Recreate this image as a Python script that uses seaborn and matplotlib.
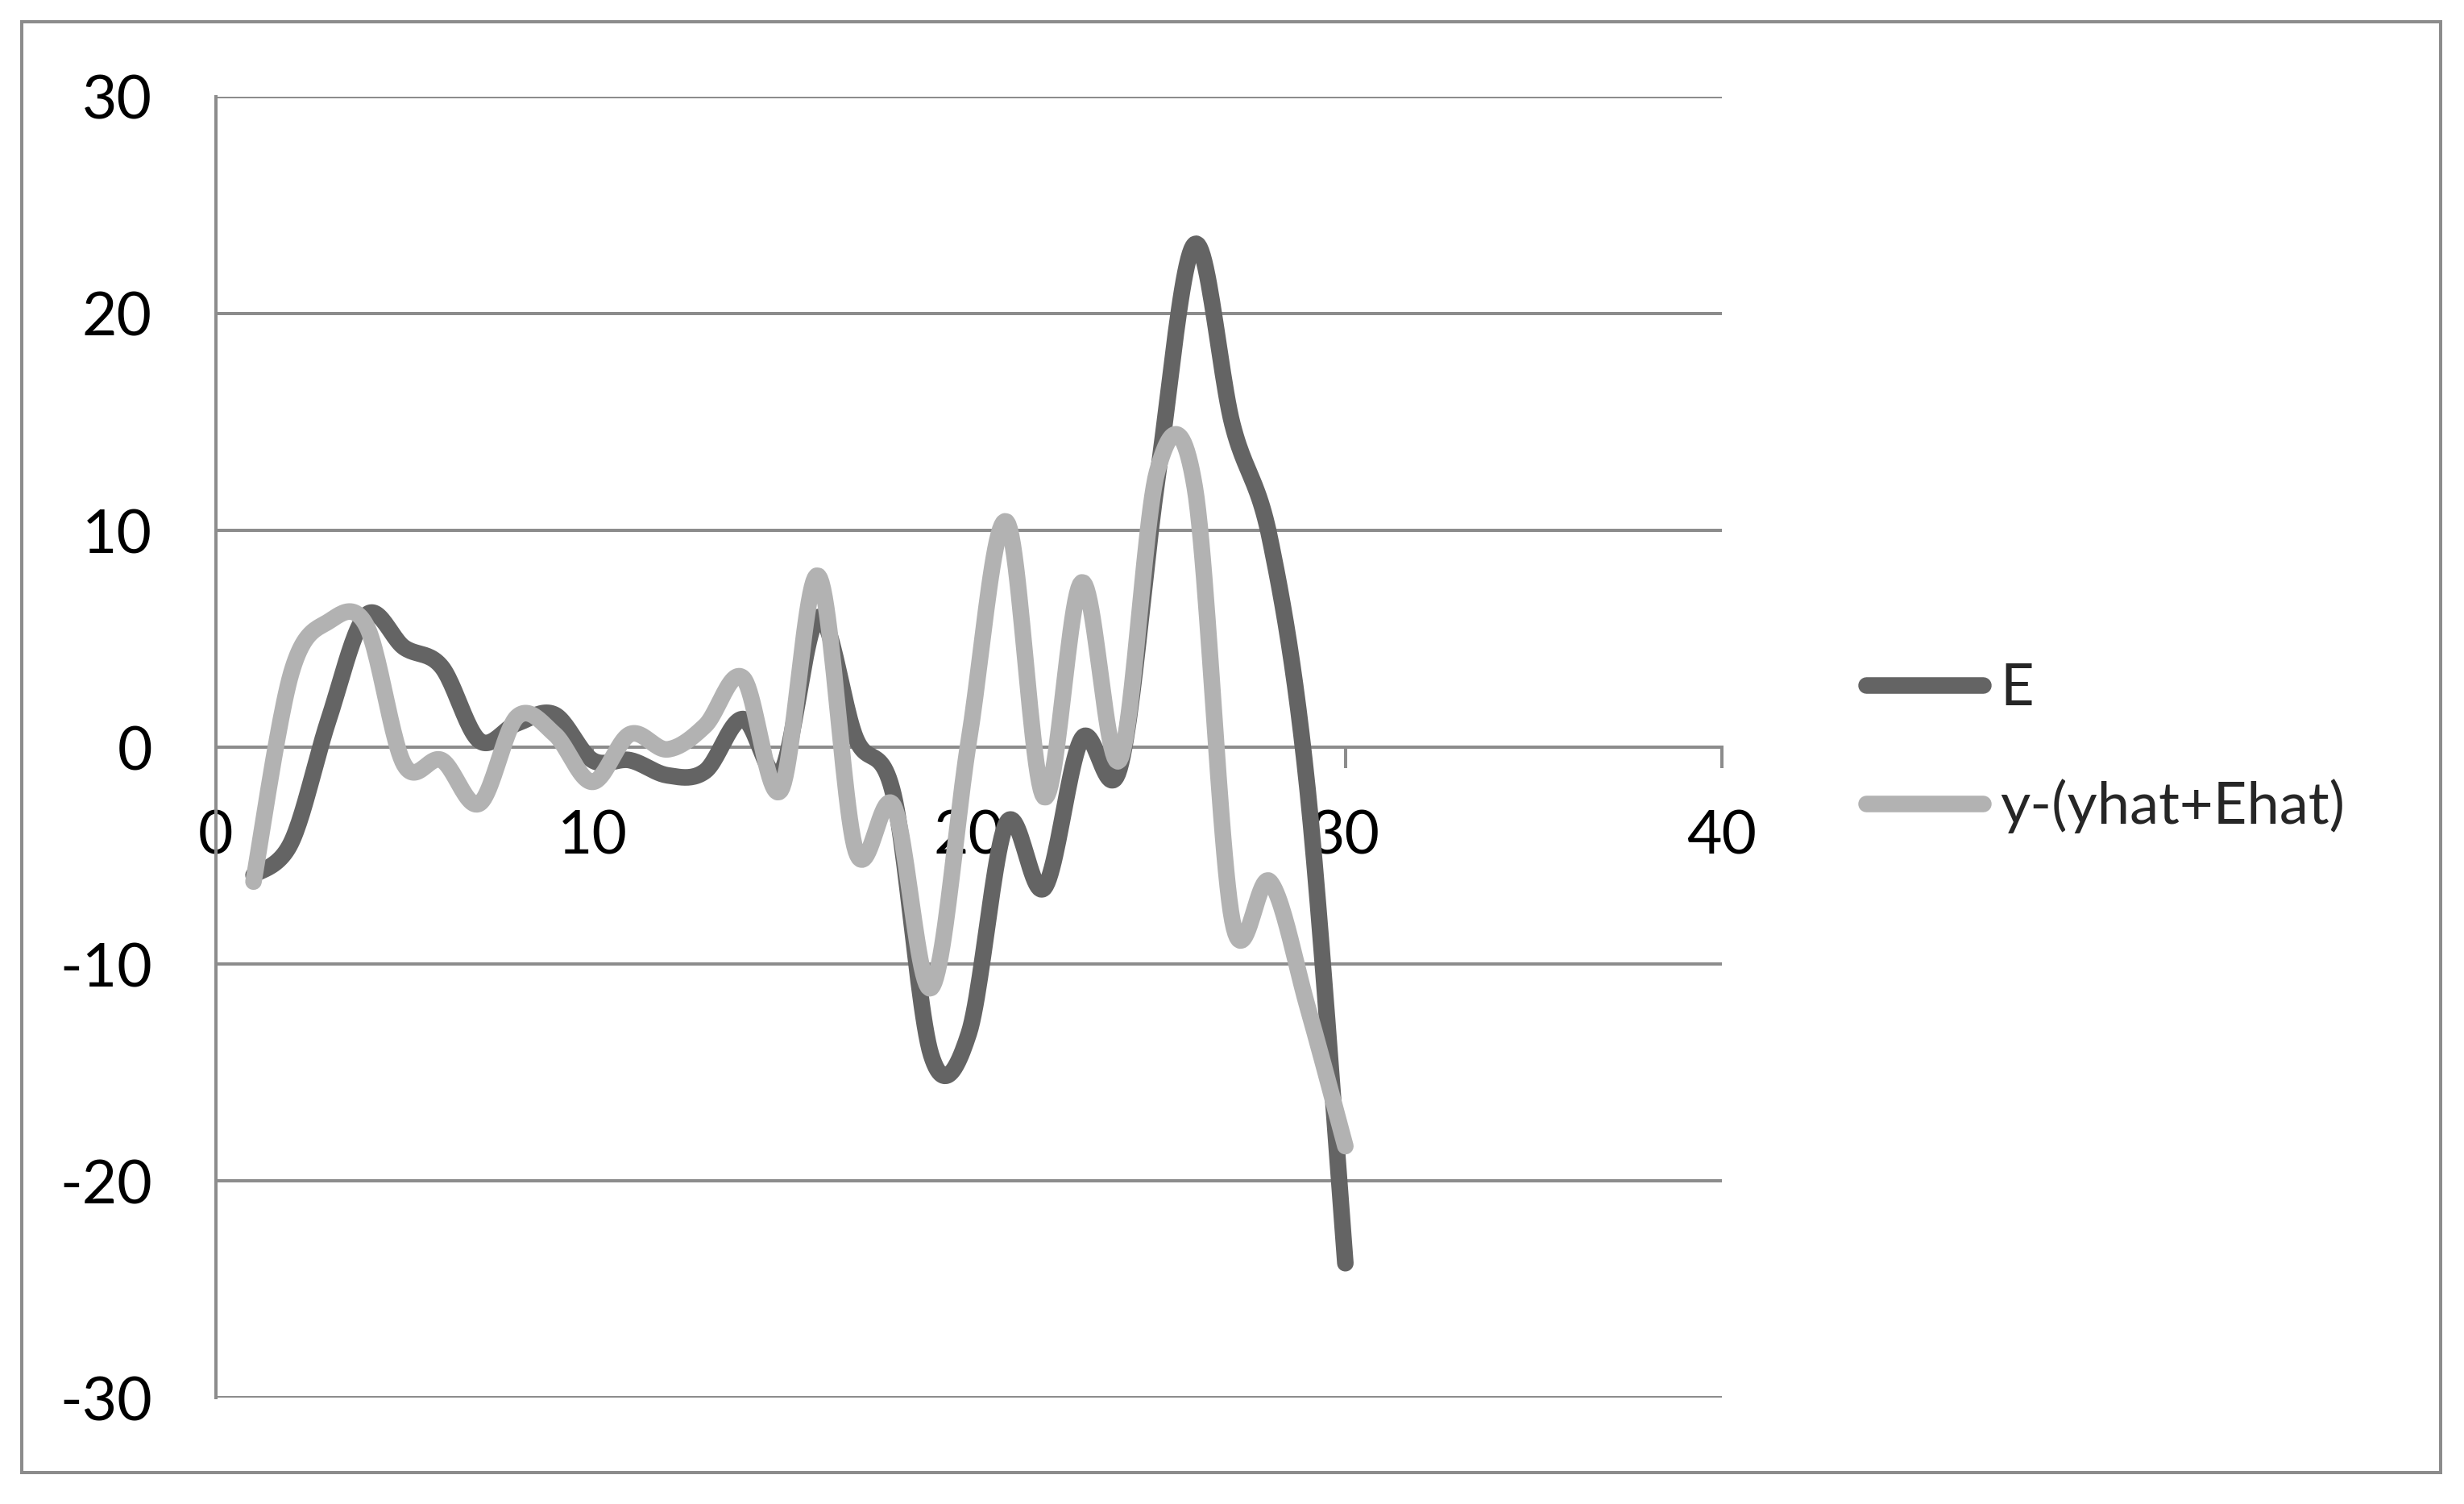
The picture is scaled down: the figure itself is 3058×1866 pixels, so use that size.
import seaborn as sns
import matplotlib.pyplot as plt
import numpy as np
import pandas as pd
from matplotlib.lines import Line2D
from matplotlib.patches import Rectangle

# values (x = 1..30)
periods = list(range(1, 31))
e_vals = [-5.9, -4.4, 1.3, 6.1, 4.6, 3.7, 0.3, 1.1, 1.5, -0.6,
          -0.6, -1.3, -1.1, 1.3, -1.2, 6.0, 0.4, -2.2, -14.2, -13.2,
          -3.5, -6.5, 0.4, -1.0, 12.3, 23.2, 14.9, 9.6, -2.0, -23.8]
resid_vals = [-6.2, 3.4, 5.8, 5.6, -0.8, -0.6, -2.6, 1.4, 0.6, -1.6,
              0.6, -0.1, 1.0, 3.2, -2.0, 7.9, -4.8, -2.7, -11.1, 0.3,
              10.4, -2.3, 7.6, -0.6, 12.7, 12.0, -8.0, -6.2, -12.0, -18.4]
series_names = ['E', 'y-(yhat+Ehat)']
x_ticks = [0, 10, 20, 30, 40]
y_ticks = [-30, -20, -10, 0, 10, 20, 30]


def smooth(xs, ys, n=24):
    # Excel-style smoothed line (Catmull-Rom through the points)
    p = np.column_stack([xs, ys]).astype(float)
    p = np.vstack([p[0], p, p[-1]])
    out = []
    for i in range(1, len(p) - 2):
        p0, p1, p2, p3 = p[i - 1], p[i], p[i + 1], p[i + 2]
        t = np.linspace(0, 1, n, endpoint=False)[:, None]
        seg = 0.5 * ((2 * p1) + (-p0 + p2) * t +
                     (2 * p0 - 5 * p1 + 4 * p2 - p3) * t ** 2 +
                     (-p0 + 3 * p1 - 3 * p2 + p3) * t ** 3)
        out.append(seg)
    out.append(p[-2][None, :])
    out = np.vstack(out)
    return out[:, 0], out[:, 1]


frames = []
for name, vals in zip(series_names, [e_vals, resid_vals]):
    sx, sy = smooth(periods, vals)
    frames.append(pd.DataFrame({'x': sx, 'y': sy, 'series': name}))
df = pd.concat(frames, ignore_index=True)

sns.set_theme(style='white')
plt.rcParams['font.family'] = ['Lato', 'DejaVu Sans']
plt.rcParams['axes.unicode_minus'] = False

grid_c = '#8c8c8c'
colors = {'E': '#646464', 'y-(yhat+Ehat)': '#b2b2b2'}
lw = 7.4

fig = plt.figure(figsize=(15.29, 9.33), dpi=200)
ax = fig.add_axes([0.0876, 0.0707, 0.6112, 0.8650])

sns.lineplot(data=df, x='x', y='y', hue='series', palette=colors,
             sort=False, estimator=None, units='series', linewidth=lw,
             legend=False, ax=ax, solid_capstyle='round', solid_joinstyle='round')
for ln in ax.lines:
    ln.set_zorder(3)

ax.set_xlim(0, 40)
ax.set_ylim(-30, 30)
ax.set_xticks(x_ticks)
ax.set_yticks(y_ticks)
ax.set_xlabel('')
ax.set_ylabel('')

ax.yaxis.grid(True, color=grid_c, linewidth=1.44)
ax.xaxis.grid(False)
ax.set_axisbelow(True)

for s in ['top', 'right']:
    ax.spines[s].set_visible(False)
ax.spines['left'].set_color(grid_c)
ax.spines['left'].set_linewidth(1.44)
ax.spines['bottom'].set_position(('data', 0))
ax.spines['bottom'].set_color(grid_c)
ax.spines['bottom'].set_linewidth(1.44)

ax.tick_params(axis='both', direction='out', length=9.4, width=1.44,
               color=grid_c, labelsize=27, labelcolor='black')
ax.tick_params(axis='y', pad=19)
ax.tick_params(axis='x', pad=18, bottom=True)

handles = [Line2D([0], [0], color=colors[n], linewidth=lw, solid_capstyle='round')
           for n in series_names]
fig.legend(handles, series_names, loc='center left',
           bbox_to_anchor=(0.7575, 0.5027), frameon=False, fontsize=26,
           handlelength=2.0, handletextpad=0.3, labelspacing=1.1,
           borderpad=0, borderaxespad=0)

fig.add_artist(Rectangle((27 / 3058, 39 / 1866), 3002 / 3058, 1800 / 1866,
                         transform=fig.transFigure, fill=False,
                         edgecolor=grid_c, linewidth=1.44))

fig.savefig('out.png', dpi=200)
